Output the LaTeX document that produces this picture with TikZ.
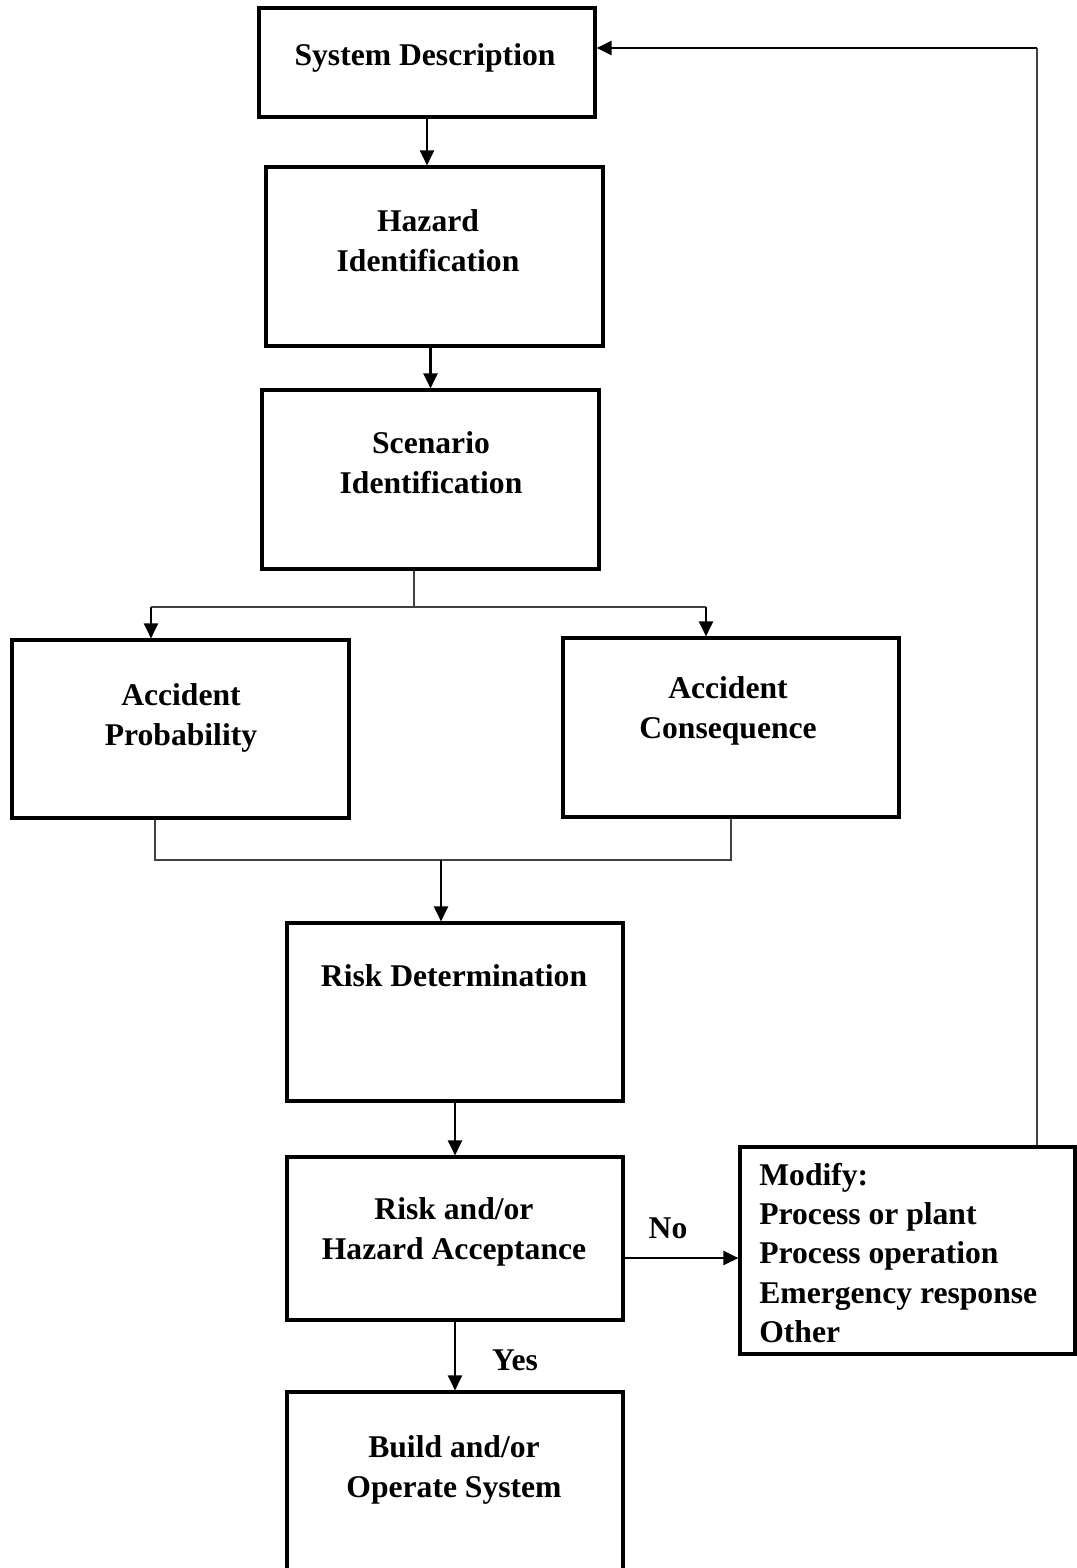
\documentclass[tikz,border=0pt]{standalone}
\usepackage{fontspec}
\setmainfont{Liberation Serif}
\usetikzlibrary{arrows.meta,fit}
\begin{document}
\begin{tikzpicture}[x=0.02cm,y=-0.02cm,
  box/.style={draw,line width=1.8pt,inner sep=0pt},
  lbl/.style={font=\fontsize{18}{22.8}\selectfont\bfseries,align=center,inner sep=0pt},
  arr/.style={line width=1.3pt,-{Triangle[length=0.3cm,width=0.28cm]}},
  thinline/.style={line width=0.8pt,draw=black!75},
]
\useasboundingbox (0,0) rectangle (1076,1568);

% process boxes
\node[box,fit={(259,8) (595,117)}] (sd) {};
\node[box,fit={(266,167) (603,346)}] (hz) {};
\node[box,fit={(262,390) (599,569)}] (sc) {};
\node[box,fit={(12,640) (349,818)}] (ap) {};
\node[box,fit={(563,638) (899,817)}] (ac) {};
\node[box,fit={(287,923) (623,1101)}] (rd) {};
\node[box,fit={(287,1157) (623,1320)}] (ra) {};
\node[box,fit={(287,1392) (623,1575)}] (bo) {};
\node[box,fit={(740,1147) (1075,1354)}] (md) {};

% box texts
\node[lbl] (sdt) at (425,58) {System Description};
\node[lbl] (hzt) at (428,241) {Hazard\\Identification};
\node[lbl] (sct) at (431,463) {Scenario\\Identification};
\node[lbl] (apt) at (181,718) {Accident\\Probability};
\node[lbl] (act) at (728,711) {Accident\\Consequence};
\node[lbl] (rdt) at (454,976) {Risk Determination};
\node[lbl] (rat) at (454,1232) {Risk and/or\\Hazard Acceptance};
\node[lbl] (bot) at (454,1470) {Build and/or\\Operate System};
\node[lbl,align=left,anchor=west,font=\fontsize{18}{22.4}\selectfont\bfseries] (mdt) at (759,1253)
  {Modify:\\Process or plant\\Process operation\\Emergency response\\Other};

% branch and merge points
\coordinate (split) at (414,607);
\coordinate (bl) at (151,607);
\coordinate (br) at (706,607);
\coordinate (jl) at (155,860);
\coordinate (jr) at (731,860);
\coordinate (jm) at (441,860);
\coordinate (noy) at (623,1258);
\coordinate (fb) at (1037,48);

% connectors
\draw[arr] (sd.south) -- (sd.south |- hz.north);
\draw[arr] (sc.north |- hz.south) -- (sc.north);
\draw[thinline] (sc.south -| split) -- (split);
\draw[thinline] (bl) -- (br);
\draw[arr] (bl) -- (ap.north -| bl);
\draw[arr] (br) -- (ac.north -| br);
\draw[thinline] (ap.south -| jl) -- (jl) -- (jr) -- (ac.south -| jr);
\draw[arr] (jm) -- (rd.north -| jm);
\draw[arr] (rd.south) -- (ra.north);
\draw[arr] (noy) -- (md.west |- noy);
\draw[arr] (ra.south) -- (bo.north);
\draw[thinline] (md.north -| fb) -- (fb);
\draw[arr] (fb) -- (sd.east |- fb);

% decision labels
\node[lbl] (no) at (668,1228) {No};
\node[lbl] (yes) at (515,1360) {Yes};
\end{tikzpicture}
\end{document}
